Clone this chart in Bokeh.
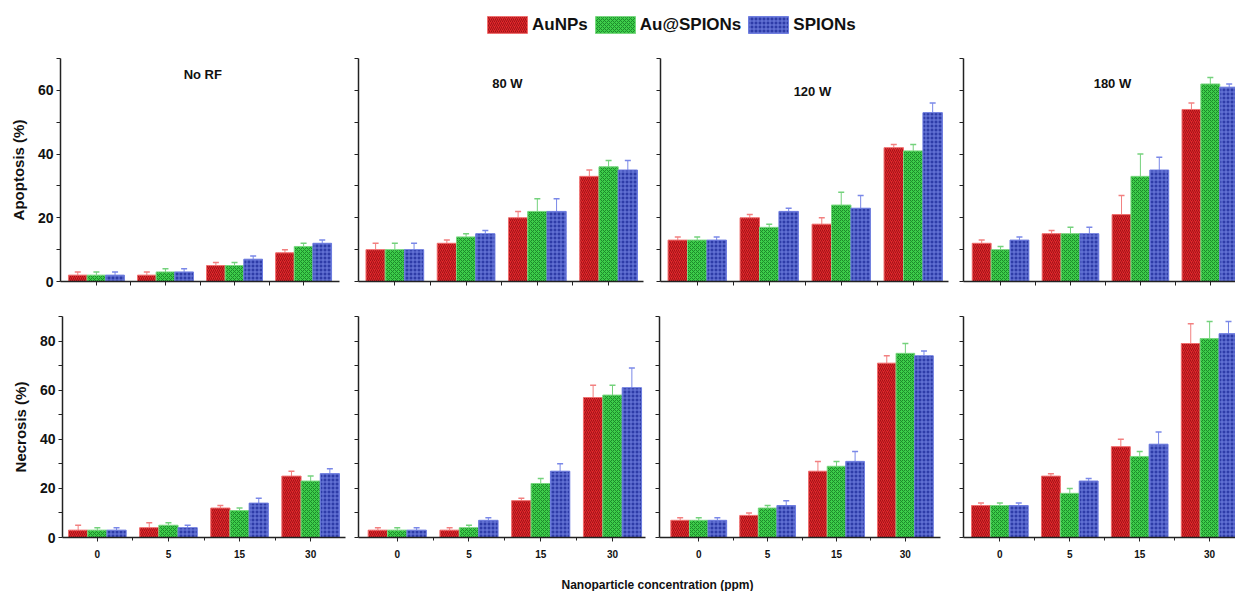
from bokeh.plotting import figure
from bokeh.models import (Range1d, FixedTicker, ColumnDataSource, Whisker, TeeHead,
                          Legend, LegendItem, Label)
from bokeh.layouts import column, row
from bokeh.transform import dodge
from bokeh.embed import file_html
from bokeh.resources import INLINE

# ---------------- data ----------------
concentrations = ["0", "5", "15", "30"]
powers = ["No RF", "80 W", "120 W", "180 W"]
series_names = ["AuNPs", "Au@SPIONs", "SPIONs"]

# one list per RF power (No RF, 80 W, 120 W, 180 W), values per concentration
apoptosis_aunps = [[2, 2, 5, 9], [10, 12, 20, 33], [13, 20, 18, 42], [12, 15, 21, 54]]
apoptosis_ausp = [[2, 3, 5, 11], [10, 14, 22, 36], [13, 17, 24, 41], [10, 15, 33, 62]]
apoptosis_spions = [[2, 3, 7, 12], [10, 15, 22, 35], [13, 22, 23, 53], [13, 15, 35, 61]]
apoptosis_err_aunps = [[1, 1, 1, 1], [2, 1, 2, 2], [1, 1, 2, 1], [1, 1, 6, 2]]
apoptosis_err_ausp = [[1, 1, 1, 1], [2, 1, 4, 2], [1, 1, 4, 2], [1, 2, 7, 2]]
apoptosis_err_spions = [[1, 1, 1, 1], [2, 1, 4, 3], [1, 1, 4, 3], [1, 2, 4, 1]]

necrosis_aunps = [[3, 4, 12, 25], [3, 3, 15, 57], [7, 9, 27, 71], [13, 25, 37, 79]]
necrosis_ausp = [[3, 5, 11, 23], [3, 4, 22, 58], [7, 12, 29, 75], [13, 18, 33, 81]]
necrosis_spions = [[3, 4, 14, 26], [3, 7, 27, 61], [7, 13, 31, 74], [13, 23, 38, 83]]
necrosis_err_aunps = [[2, 2, 1, 2], [1, 1, 1, 5], [1, 1, 4, 3], [1, 1, 3, 8]]
necrosis_err_ausp = [[1, 1, 1, 2], [1, 1, 2, 4], [1, 1, 2, 4], [1, 2, 2, 7]]
necrosis_err_spions = [[1, 1, 2, 2], [1, 1, 3, 8], [1, 2, 4, 2], [1, 1, 5, 5]]

apo_ticks = [0, 20, 40, 60]
apo_minor = [10, 30, 50, 70]
nec_ticks = [0, 20, 40, 60, 80]
nec_minor = [10, 30, 50, 70, 90]

# ---------------- styles ----------------
FONT = "Liberation Sans"
AXIS_COLOR = "#222222"
styles = [
    dict(fill="#e3262b", hatch="/", hatch_color="#9e1418", line="#f07070", err="#f28080"),
    dict(fill="#3dcc4a", hatch="x", hatch_color="#1c8a2a", line="#7ad880", err="#74d27c"),
    dict(fill="#2e3ca8", hatch="+", hatch_color="#7080e0", line="#6e7de0", err="#7a88e8"),
]
offsets = [-0.27, 0.0, 0.27]
BAR_W = 0.27

# geometry per panel: width, height, border left/right/top/bottom, x-range, title position
top_geom = [
    dict(w=346, h=250, bl=60, br=7, bt=13, bb=14, xr=(-0.52, 3.52), tx=1.54, ty=65),
    dict(w=301, h=250, bl=12, br=4, bt=7, bb=13, xr=(-0.51, 3.49), tx=1.58, ty=62),
    dict(w=304, h=250, bl=13, br=3, bt=5, bb=13, xr=(-0.51, 3.49), tx=1.60, ty=59.5),
    dict(w=284, h=250, bl=12, br=0, bt=10, bb=13, xr=(-0.53, 3.36), tx=1.60, ty=62),
]
bot_geom = [
    dict(w=348, h=271, bl=62, br=3, bt=12, bb=29, xr=(-0.49, 3.49)),
    dict(w=299, h=271, bl=10, br=2, bt=12, bb=27, xr=(-0.54, 3.46)),
    dict(w=304, h=271, bl=12, br=11, bt=21, bb=26, xr=(-0.57, 3.51)),
    dict(w=284, h=271, bl=12, br=0, bt=17, bb=27, xr=(-0.52, 3.37)),
]


def add_bars(p, vals_list, errs_list, with_err=True):
    renderers = []
    for k, (vals, errs) in enumerate(zip(vals_list, errs_list)):
        st = styles[k]
        src = ColumnDataSource(dict(
            x=list(range(len(concentrations))),
            top=vals,
            upper=[v + e for v, e in zip(vals, errs)],
        ))
        r = p.vbar(x=dodge("x", offsets[k]), top="top", bottom=0, width=BAR_W, source=src,
                   fill_color=st["fill"], line_color=st["line"], line_width=1,
                   hatch_pattern=st["hatch"], hatch_color=st["hatch_color"],
                   hatch_scale=4, hatch_weight=1)
        renderers.append(r)
        if with_err:
            w = Whisker(base=dodge("x", offsets[k]), lower="top", upper="upper", source=src,
                        dimension="height", line_color=st["err"], line_width=1,
                        lower_head=None,
                        upper_head=TeeHead(size=6, line_color=st["err"], line_width=1.5))
            p.add_layout(w)
    return renderers


def style_axis(ax):
    ax.axis_line_color = AXIS_COLOR
    ax.axis_line_width = 1.5
    ax.major_tick_line_color = AXIS_COLOR
    ax.minor_tick_line_color = AXIS_COLOR
    ax.major_tick_in = 0
    ax.major_tick_out = 4
    ax.minor_tick_in = 0
    ax.minor_tick_out = 4


def make_panel(g, vals_list, errs_list, ymax, yticks, yminor, show_ylabels, ylabel,
               show_xlabels, title=None):
    p = figure(width=g["w"], height=g["h"], output_backend="svg", toolbar_location=None,
               x_range=Range1d(*g["xr"]), y_range=Range1d(0, ymax),
               min_border_left=g["bl"], min_border_right=g["br"],
               min_border_top=g["bt"], min_border_bottom=g["bb"])
    p.outline_line_color = None
    p.grid.visible = False
    p.background_fill_color = "white"
    p.border_fill_color = "white"
    add_bars(p, vals_list, errs_list)

    group_pos = list(range(len(concentrations)))
    between = [i + 0.5 for i in group_pos[:-1]]
    xa = p.xaxis[0]
    style_axis(xa)
    if show_xlabels:
        xa.ticker = FixedTicker(ticks=group_pos, minor_ticks=between)
        xa.major_label_overrides = {i: c for i, c in enumerate(concentrations)}
        xa.minor_tick_out = 3
        xa.major_label_text_font = FONT
        xa.major_label_text_font_style = "bold"
        xa.major_label_text_font_size = "10px"
        xa.major_label_text_color = "#111111"
        xa.major_label_standoff = 8
    else:
        # unlabeled axis: draw all ticks as minor ticks (no labels)
        xa.ticker = FixedTicker(ticks=[], minor_ticks=sorted(group_pos + between))
        xa.major_label_standoff = 0

    ya = p.yaxis[0]
    style_axis(ya)
    if show_ylabels:
        ya.ticker = FixedTicker(ticks=yticks, minor_ticks=yminor)
        ya.major_label_text_font = FONT
        ya.major_label_text_font_style = "bold"
        ya.major_label_text_font_size = "14px"
        ya.major_label_text_color = "#111111"
        ya.major_label_standoff = 3
        ya.axis_label = ylabel
        ya.axis_label_text_font = FONT
        ya.axis_label_text_font_style = "bold"
        ya.axis_label_text_font_size = "15px"
        ya.axis_label_text_color = "#111111"
        ya.axis_label_standoff = 8
    else:
        ya.ticker = FixedTicker(ticks=[], minor_ticks=sorted(yticks + yminor))
        ya.major_label_standoff = 0

    if title is not None:
        p.add_layout(Label(x=g["tx"], y=g["ty"], text=title, text_align="center",
                           text_baseline="middle", text_font=FONT, text_font_style="bold",
                           text_font_size="13px", text_color="#111111"))
    return p


apo_vals = [apoptosis_aunps, apoptosis_ausp, apoptosis_spions]
apo_errs = [apoptosis_err_aunps, apoptosis_err_ausp, apoptosis_err_spions]
nec_vals = [necrosis_aunps, necrosis_ausp, necrosis_spions]
nec_errs = [necrosis_err_aunps, necrosis_err_ausp, necrosis_err_spions]

top_figs = []
bot_figs = []
for i, pw in enumerate(powers):
    top_figs.append(make_panel(top_geom[i], [s[i] for s in apo_vals], [s[i] for s in apo_errs],
                               70, apo_ticks, apo_minor, i == 0,
                               "Apoptosis (%)", False, title=pw))
    bot_figs.append(make_panel(bot_geom[i], [s[i] for s in nec_vals], [s[i] for s in nec_errs],
                               90, nec_ticks, nec_minor, i == 0,
                               "Necrosis (%)", True))

# ---------------- legend strip ----------------
leg = figure(width=1235, height=45, output_backend="svg", toolbar_location=None,
             x_range=Range1d(-0.5, 3.5), y_range=Range1d(1000, 1001),
             min_border_left=0, min_border_right=0, min_border_top=0, min_border_bottom=0)
leg.axis.visible = False
leg.grid.visible = False
leg.outline_line_color = None
leg_renderers = add_bars(leg, [s[0] for s in apo_vals], [s[0] for s in apo_errs], with_err=False)
legend = Legend(items=[LegendItem(label=n, renderers=[r]) for n, r in zip(series_names, leg_renderers)],
                orientation="horizontal", location=(482, 10),
                glyph_width=50, glyph_height=21, label_height=21, label_standoff=0, spacing=2,
                padding=0, margin=0, border_line_color=None, background_fill_alpha=0,
                label_text_font=FONT, label_text_font_style="bold", label_text_font_size="17px",
                label_text_color="#111111")
leg.add_layout(legend, "center")

# ---------------- x title strip ----------------
xt = figure(width=1235, height=25, output_backend="svg", toolbar_location=None,
            x_range=Range1d(0, 1), y_range=Range1d(0, 1),
            min_border_left=0, min_border_right=0, min_border_top=0, min_border_bottom=0)
xt.axis.visible = False
xt.grid.visible = False
xt.outline_line_color = None
xt.add_layout(Label(x=0.532, y=0.26, text="Nanoparticle concentration (ppm)", text_align="center",
                    text_baseline="middle", text_font=FONT, text_font_style="bold",
                    text_font_size="12px", text_color="#111111"))

layout = column(leg, row(*top_figs), row(*bot_figs), xt)
open("out.html", "w").write(file_html(layout, INLINE))
